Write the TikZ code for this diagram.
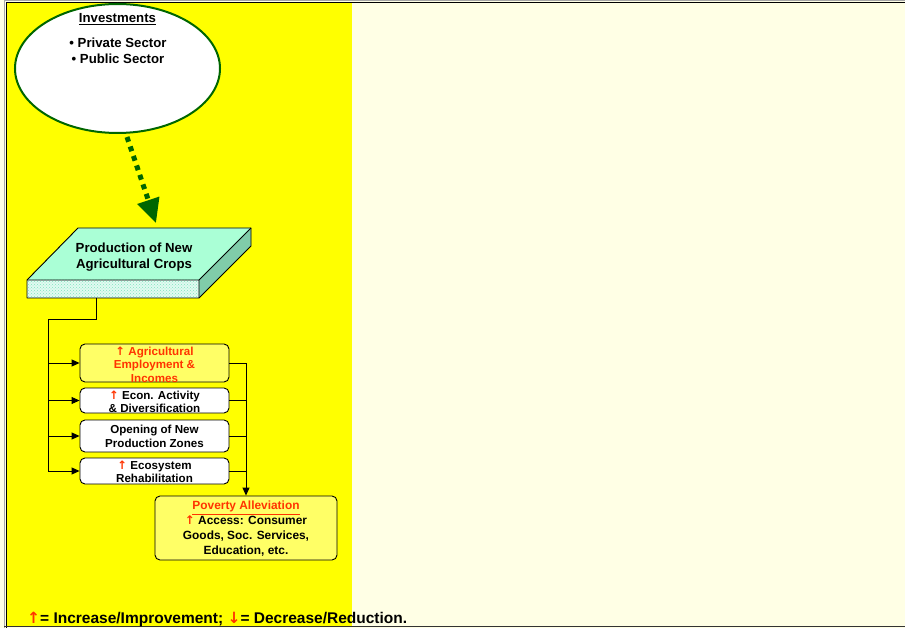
\documentclass[tikz,border=0pt]{standalone}
\usepackage{fontspec}
\setmainfont{Liberation Sans}
\newfontfamily\arrowfont{DejaVu Sans}
\usetikzlibrary{shapes.geometric,arrows.meta,patterns}
\definecolor{panelyellow}{HTML}{FFFF00}
\definecolor{panelcream}{HTML}{FFFFE5}
\definecolor{invgreen}{HTML}{006600}
\definecolor{minttop}{HTML}{AAFFD6}
\definecolor{mintside}{HTML}{80CCAA}
\definecolor{mintdot}{HTML}{7EE6BE}
\definecolor{mintface}{HTML}{E2FAF1}
\definecolor{paleyellow}{HTML}{FFFF66}
\definecolor{upred}{HTML}{FF3300}
\newcommand{\uparr}{\textcolor{upred}{{\arrowfont\bfseries ↑}}}
\newcommand{\downarr}{\textcolor{upred}{{\arrowfont\bfseries ↓}}}
\tikzset{
  txt/.style={font=\bfseries\fontsize{13.2}{16}\selectfont, align=center, inner sep=0pt},
  boxtxt/.style={font=\bfseries\fontsize{11.6}{13.5}\selectfont, align=center, inner sep=0pt},
  effectbox/.style={draw=black, line width=0.9pt, rounded corners=5pt, fill=white,
                    minimum width=149pt, inner sep=0pt},
  link/.style={draw=black, line width=1pt},
  linkarrow/.style={link, -{Triangle[length=8pt,width=7pt]}},
}
\begin{document}
\begin{tikzpicture}[x=1pt,y=-1pt]
\useasboundingbox (0,0) rectangle (905,628);
% panels
\fill[panelcream] (0,0) rectangle (905,628);
\fill[panelyellow] (7,2) rectangle (352,626);
% frame
\draw[gray!70, line width=1pt] (4.5,628) -- (4.5,0.5) -- (905,0.5);
\draw[black, line width=1.4pt] (6.5,628) -- (6.5,2.5) -- (905,2.5);
\draw[black!80, line width=1.6pt] (4,626.5) -- (905,626.5);

% investments ellipse
\node[ellipse, draw=invgreen, line width=2pt, fill=white, inner sep=0pt,
      minimum width=205pt, minimum height=129pt] (inv) at (117.5,68.5) {};
\node[txt] (invtitle) at (117.5,19) {\underline{Investments}};
\node[txt] (invlist) at (118,51) {• Private Sector\\ • Public Sector};

% production slab
\coordinate (sA) at (27,280);
\coordinate (sB) at (78,228);
\coordinate (sC) at (251,228);
\coordinate (sD) at (199,280);
\coordinate (sE) at (199,298);
\coordinate (sF) at (27,298);
\coordinate (sG) at (251,246);
\fill[minttop] (sA) -- (sB) -- (sC) -- (sD) -- cycle;
\fill[mintside] (sD) -- (sC) -- (sG) -- (sE) -- cycle;
\fill[mintface] (sA) rectangle (sE);
\fill[pattern=crosshatch dots, pattern color=mintdot] (sA) rectangle (sE);
\draw[black, line width=0.9pt, line join=round] (sA) -- (sB) -- (sC) -- (sG) -- (sE) -- (sF) -- cycle;
\draw[black, line width=0.9pt] (sA) -- (sD) -- (sC) (sD) -- (sE);
\node[txt] (prod) at (134,257) {Production of New\\ Agricultural Crops};

% dotted arrow from investments to production
\coordinate (dropend) at (156,223);
\draw[invgreen, line width=5pt, dash pattern=on 5pt off 5pt,
      -{Triangle[length=24pt,width=22pt]}] (127,137) -- (dropend);

% effect boxes
\node[effectbox, fill=paleyellow, minimum height=38pt] (b1) at (154.5,363) {};
\node[effectbox, minimum height=25pt] (b2) at (154.5,400.5) {};
\node[effectbox, minimum height=32pt] (b3) at (154.5,436) {};
\node[effectbox, minimum height=26pt] (b4) at (154.5,471) {};
\node[boxtxt, text=upred] (t1) at (154.5,364.5) {\uparr{} Agricultural\\ Employment \&\\ Incomes};
\node[boxtxt] (t2) at (154.5,402) {\uparr{} Econ. Activity\\ \& Diversification};
\node[boxtxt] (t3) at (154.5,436.5) {Opening of New\\ Production Zones};
\node[boxtxt] (t4) at (154.5,472) {\uparr{} Ecosystem\\ Rehabilitation};

% poverty alleviation box
\node[effectbox, fill=paleyellow, minimum width=182pt, minimum height=64pt] (pov) at (246,528) {};
\node[boxtxt, font=\bfseries\fontsize{11.9}{15}\selectfont] (povtxt) at (246,529)
  {\textcolor{upred}{\underline{Poverty Alleviation}}\\ \uparr{} Access: Consumer\\ Goods, Soc. Services,\\ Education, etc.};

% connectors from production to effects
\coordinate (slabout) at (96,298);
\coordinate (elbow) at (96,320);
\coordinate (trunktop) at (48,320);
\coordinate (trunkbot) at (48,471);
\draw[link] (slabout) -- (elbow) -- (trunktop) -- (trunkbot);
\draw[linkarrow] (48,363) -- (b1.west);
\draw[linkarrow] (48,400.5) -- (b2.west);
\draw[linkarrow] (48,436) -- (b3.west);
\draw[linkarrow] (trunkbot) -- (b4.west);

% connectors from effects to poverty alleviation
\coordinate (collect) at (246,363);
\draw[link] (b1.east) -- (collect);
\draw[link] (b2.east) -- (246,400.5);
\draw[link] (b3.east) -- (246,436);
\draw[link] (b4.east) -- (246,471);
\draw[linkarrow] (collect) -- (pov.north);

% legend
\node[anchor=base west, inner sep=0pt, font=\bfseries\fontsize{15.5}{18}\selectfont] (legend) at (27,623)
  {\uparr= Increase/Improvement; \downarr= Decrease/Reduction.};
\end{tikzpicture}
\end{document}
